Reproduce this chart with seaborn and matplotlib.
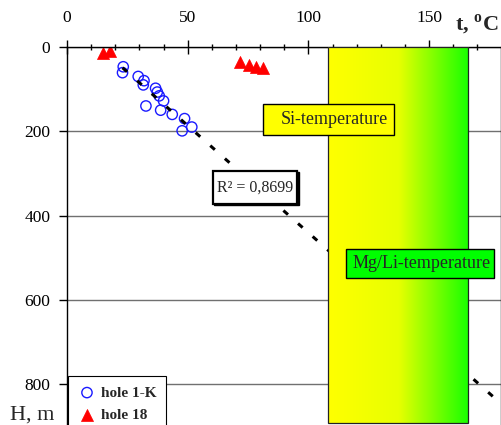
import numpy as np
import pandas as pd
import matplotlib.pyplot as plt
import seaborn as sns
from matplotlib.patches import Rectangle

# hole 1-K: temperature (deg C) vs depth (m)
hole1k_t = [23.3, 23.0, 29.5, 31.9, 31.6, 36.7, 37.4, 38.2, 40.0, 32.7, 38.8, 43.6, 48.7, 51.7, 47.7]
hole1k_h = [47, 61, 70, 80, 90, 98, 107, 116, 128, 140, 150, 160, 170, 190, 199]

# hole 18
hole18_t = [15.0, 18.0, 71.8, 75.4, 78.5, 81.0]
hole18_h = [15, 10, 36, 43, 47, 51]

# geothermometer band (deg C)
band_t = [108, 166]
band_depth = 893

x_major = [0, 50, 100, 150]
y_major = [0, 200, 400, 600, 800]
r2_label = "R² = 0,8699"


def main():
    sns.set_style("ticks")
    plt.rcParams["font.family"] = ["Liberation Serif", "DejaVu Serif"]
    plt.rcParams["mathtext.fontset"] = "custom"
    plt.rcParams["mathtext.rm"] = "Liberation Serif"
    plt.rcParams["mathtext.bf"] = "Liberation Serif:bold"

    fig = plt.figure(figsize=(5.02, 4.25), dpi=100)
    ax = fig.add_axes([67 / 502, -0.003, 434.5 / 502, 0.8925])

    df1 = pd.DataFrame({"t": hole1k_t, "H": hole1k_h})
    df18 = pd.DataFrame({"t": hole18_t, "H": hole18_h})

    # linear trend of depth vs temperature for hole 1-K
    k, b = np.polyfit(df1["t"], df1["H"], 1)
    t_line = np.array([df1["t"].min(), 190])
    ax.plot(t_line, k * t_line + b, color="black", lw=2.2,
            dashes=(2, 4.4), zorder=2.5, solid_capstyle="butt")

    sns.scatterplot(data=df1, x="t", y="H", ax=ax, marker="o", s=55,
                    facecolor="none", edgecolor="#1a1aff", linewidth=1,
                    label="hole 1-K", zorder=2)
    sns.scatterplot(data=df18, x="t", y="H", ax=ax, marker="^", s=75,
                    color="red", edgecolor="red", linewidth=0.5,
                    label="hole 18", zorder=2)

    # gradient band
    grad = np.linspace(0, 1, 256)[None, :]
    cmap = plt.matplotlib.colors.LinearSegmentedColormap.from_list(
        "yg", ["#ffff00", "#e8ff00", "#18ff00"])
    ax.imshow(grad, cmap=cmap, aspect="auto", zorder=3,
              extent=[band_t[0], band_t[1], band_depth, 0])
    ax.add_patch(Rectangle((band_t[0], 0), band_t[1] - band_t[0], band_depth,
                           fill=False, ec="#222222", lw=0.9, zorder=3.1))

    # label boxes
    ax.add_patch(Rectangle((81.1, 135), 54.2, 74, fc="#ffff00", ec="black",
                           lw=1, zorder=5))
    ax.text(110.9, 173, "Si-temperature", ha="center", va="center",
            fontsize=13, zorder=6)
    ax.add_patch(Rectangle((115.7, 480), 61, 67.5, fc="#00ff00", ec="black",
                           lw=1, zorder=5))
    ax.text(146.9, 514, "Mg/Li-temperature", ha="center", va="center",
            fontsize=13, zorder=6)
    ax.add_patch(Rectangle((61.1, 297), 34.9, 79, fc="black", ec="black",
                           lw=1, zorder=5))
    ax.add_patch(Rectangle((60.5, 294), 34.9, 79, fc="white", ec="black",
                           lw=1.6, zorder=5.1))
    ax.text(77.8, 334, r2_label, ha="center", va="center", fontsize=11.5,
            zorder=6)

    ax.set_xlim(0, 180)
    ax.set_ylim(900, 0)
    ax.xaxis.tick_top()
    ax.set_xticks(x_major)
    ax.set_xticks(np.arange(0, 180, 10), minor=True)
    ax.set_yticks(y_major)
    ax.tick_params(axis="x", which="major", direction="inout", length=10,
                   width=1, pad=10, labelsize=12.5, colors="black")
    ax.tick_params(axis="x", which="minor", direction="inout", length=5,
                   width=1, colors="black")
    ax.tick_params(axis="y", which="major", direction="out", length=6,
                   width=1, pad=6, labelsize=12.5, colors="black")
    ax.set_xlabel("")
    ax.set_ylabel("")
    ax.yaxis.grid(True, color="#707070", lw=1)
    ax.set_axisbelow(True)
    for side in ax.spines.values():
        side.set_color("black")
        side.set_linewidth(1)

    leg = ax.legend(loc="upper left", bbox_to_anchor=(0.002, 0.1326),
                    borderaxespad=0, frameon=True, fancybox=False,
                    framealpha=1, edgecolor="black", handlelength=1.2,
                    handletextpad=0.3, borderpad=0.65, labelspacing=0.6,
                    prop={"family": "Liberation Serif", "weight": "bold",
                          "size": 11})
    leg.get_frame().set_linewidth(0.8)
    leg.set_zorder(7)

    fig.text(455 / 502, 1 - 25 / 425, r"t, $^{\mathbf{o}}$C", fontsize=16,
             fontweight="bold", va="center", ha="left")
    fig.text(10 / 502, 1 - 415 / 425, "H, m", fontsize=16, va="center",
             ha="left")

    fig.savefig("out.png", dpi=100)


if __name__ == "__main__":
    main()
